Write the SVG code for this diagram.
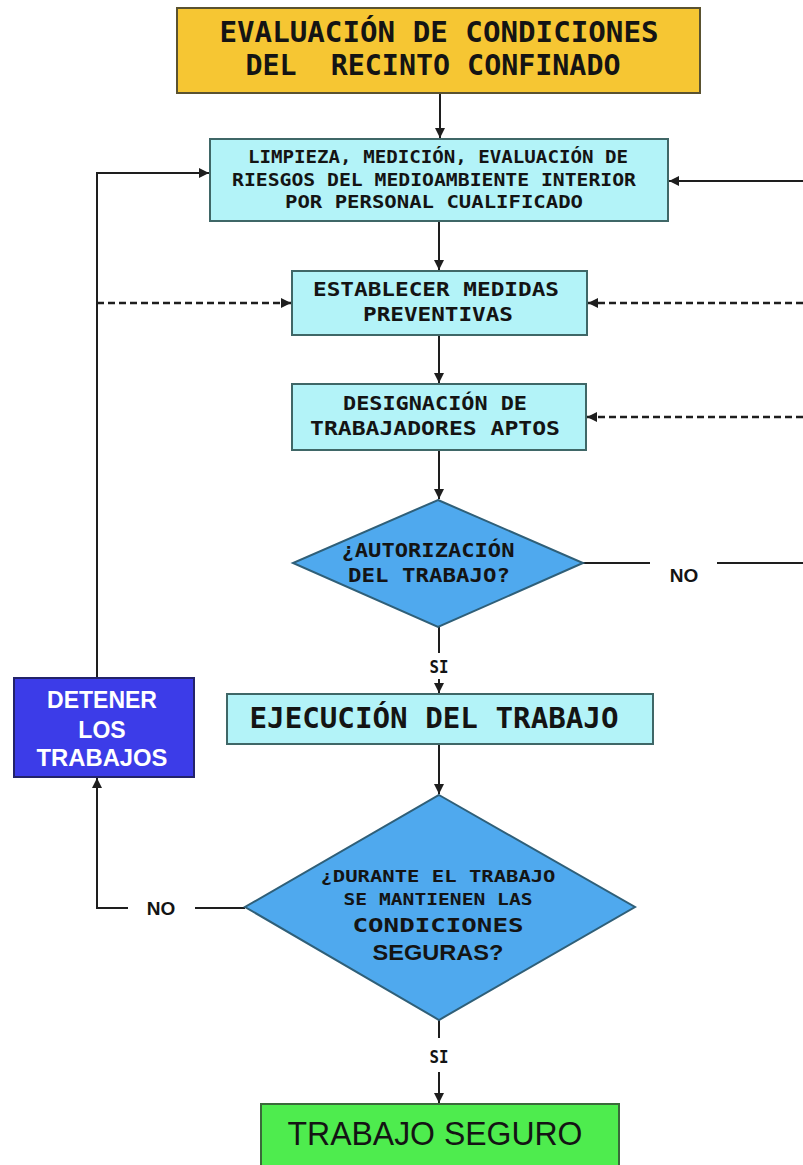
<svg xmlns="http://www.w3.org/2000/svg" width="803" height="1165" viewBox="0 0 803 1165">
<style>
.bg{fill:#ffffff}
.box{fill:#B3F3F8;stroke:#3F6767;stroke-width:2}
.dia{fill:#4FA9EE;stroke:#2F5F78;stroke-width:2}
.mono{font-family:"DejaVu Sans Mono","Liberation Mono",monospace;font-weight:bold;fill:#141414;text-anchor:middle;white-space:pre}
.sans{font-family:"Liberation Sans",Arial,sans-serif;font-weight:bold;fill:#141414;text-anchor:middle}
.wht{fill:#ffffff}
.ln{fill:none;stroke:#1e1e1e;stroke-width:2}
.dash{fill:none;stroke:#1e1e1e;stroke-width:2.5;stroke-dasharray:7 4}
</style>
<defs>
<marker id="arr" viewBox="0 0 10 10" refX="10" refY="5" markerWidth="11" markerHeight="10" markerUnits="userSpaceOnUse" orient="auto">
<path d="M0,0 L10,5 L0,10 Z" fill="#1e1e1e"/>
</marker>
</defs>
<rect class="bg" x="0" y="0" width="803" height="1165"/>

<g id="connectors">
<line class="ln" x1="440" y1="93" x2="440" y2="138" marker-end="url(#arr)"/>
<line class="ln" x1="439" y1="221" x2="439" y2="270" marker-end="url(#arr)"/>
<line class="ln" x1="439" y1="335" x2="439" y2="383" marker-end="url(#arr)"/>
<line class="ln" x1="439" y1="450" x2="439" y2="499" marker-end="url(#arr)"/>
<line class="ln" x1="439" y1="627" x2="439" y2="653"/>
<line class="ln" x1="439" y1="679" x2="439" y2="693" marker-end="url(#arr)"/>
<line class="ln" x1="439" y1="744" x2="439" y2="794" marker-end="url(#arr)"/>
<line class="ln" x1="439" y1="1020" x2="439" y2="1038"/>
<line class="ln" x1="439" y1="1072" x2="439" y2="1103" marker-end="url(#arr)"/>
<polyline class="ln" points="97,678 97,173 209,173" marker-end="url(#arr)"/>
<line class="dash" x1="97" y1="303" x2="291" y2="303" marker-end="url(#arr)"/>
<line class="ln" x1="803" y1="181" x2="669" y2="181" marker-end="url(#arr)"/>
<line class="dash" x1="803" y1="303" x2="588" y2="303" marker-end="url(#arr)"/>
<line class="dash" x1="803" y1="417" x2="587" y2="417" marker-end="url(#arr)"/>
<line class="ln" x1="583" y1="563" x2="650" y2="563"/>
<line class="ln" x1="717" y1="563" x2="803" y2="563"/>
<text class="sans" x="684" y="582" font-size="19">NO</text>
<line class="ln" x1="245" y1="908" x2="195" y2="908"/>
<polyline class="ln" points="128,908 97,908 97,778" marker-end="url(#arr)"/>
<text class="sans" x="161" y="915" font-size="19">NO</text>
<text class="mono" x="439" y="673" font-size="17" textLength="19" lengthAdjust="spacingAndGlyphs">SI</text>
<text class="mono" x="439" y="1063" font-size="17" textLength="19" lengthAdjust="spacingAndGlyphs">SI</text>
</g>

<g id="n-evaluacion">
<rect x="177" y="8" width="523" height="85" fill="#F6C633" stroke="#5a5230" stroke-width="2"/>
<text class="mono" x="439" y="42" font-size="28" textLength="439" lengthAdjust="spacingAndGlyphs">EVALUACIÓN DE CONDICIONES</text>
<text class="mono" x="433" y="75" font-size="28" textLength="375" lengthAdjust="spacingAndGlyphs">DEL  RECINTO CONFINADO</text>
</g>

<g id="n-limpieza">
<rect class="box" x="210" y="139" width="458" height="82"/>
<text class="mono" x="438" y="163" font-size="18" textLength="380" lengthAdjust="spacingAndGlyphs">LIMPIEZA, MEDICIÓN, EVALUACIÓN DE</text>
<text class="mono" x="434" y="186" font-size="18" textLength="404" lengthAdjust="spacingAndGlyphs">RIESGOS DEL MEDIOAMBIENTE INTERIOR</text>
<text class="mono" x="434" y="208" font-size="18" textLength="298" lengthAdjust="spacingAndGlyphs">POR PERSONAL CUALIFICADO</text>
</g>

<g id="n-medidas">
<rect class="box" x="292" y="271" width="295" height="64"/>
<text class="mono" x="436" y="296" font-size="20" textLength="246" lengthAdjust="spacingAndGlyphs">ESTABLECER MEDIDAS</text>
<text class="mono" x="438" y="321" font-size="20" textLength="150" lengthAdjust="spacingAndGlyphs">PREVENTIVAS</text>
</g>

<g id="n-designacion">
<rect class="box" x="292" y="384" width="294" height="66"/>
<text class="mono" x="435" y="410" font-size="20" textLength="184" lengthAdjust="spacingAndGlyphs">DESIGNACIÓN DE</text>
<text class="mono" x="435" y="435" font-size="20" textLength="250" lengthAdjust="spacingAndGlyphs">TRABAJADORES APTOS</text>
</g>

<g id="n-autorizacion">
<polygon class="dia" points="438,500 583,563 438,627 293,563"/>
<text class="mono" x="428" y="557" font-size="19" textLength="173" lengthAdjust="spacingAndGlyphs">¿AUTORIZACIÓN</text>
<text class="mono" x="429" y="582" font-size="19" textLength="162" lengthAdjust="spacingAndGlyphs">DEL TRABAJO?</text>
</g>

<g id="n-detener">
<rect x="14" y="678" width="180" height="99" fill="#3C3CE8" stroke="#23236a" stroke-width="2"/>
<text class="sans wht" x="102" y="708" font-size="23">DETENER</text>
<text class="sans wht" x="102" y="738" font-size="23">LOS</text>
<text class="sans wht" x="102" y="766" font-size="23" textLength="131" lengthAdjust="spacingAndGlyphs">TRABAJOS</text>
</g>

<g id="n-ejecucion">
<rect class="box" x="227" y="694" width="426" height="50"/>
<text class="mono" x="434" y="728" font-size="29" textLength="369" lengthAdjust="spacingAndGlyphs">EJECUCIÓN DEL TRABAJO</text>
</g>

<g id="n-condiciones">
<polygon class="dia" points="439,795 635,907 439,1020 245,907"/>
<text class="mono" x="438" y="882" font-size="16" textLength="235" lengthAdjust="spacingAndGlyphs">¿DURANTE EL TRABAJO</text>
<text class="mono" x="438" y="905" font-size="16" textLength="189" lengthAdjust="spacingAndGlyphs">SE MANTIENEN LAS</text>
<text class="mono" x="438" y="932" font-size="19" textLength="171" lengthAdjust="spacingAndGlyphs">CONDICIONES</text>
<text class="sans" x="438" y="960" font-size="22" textLength="131" lengthAdjust="spacingAndGlyphs">SEGURAS?</text>
</g>

<g id="n-seguro">
<rect x="261" y="1104" width="358" height="70" fill="#4EEC4E" stroke="#3a6a3a" stroke-width="2"/>
<text x="435" y="1145" font-family="'Liberation Sans',Arial,sans-serif" font-size="34" fill="#141414" text-anchor="middle" textLength="295" lengthAdjust="spacingAndGlyphs">TRABAJO SEGURO</text>
</g>
</svg>
